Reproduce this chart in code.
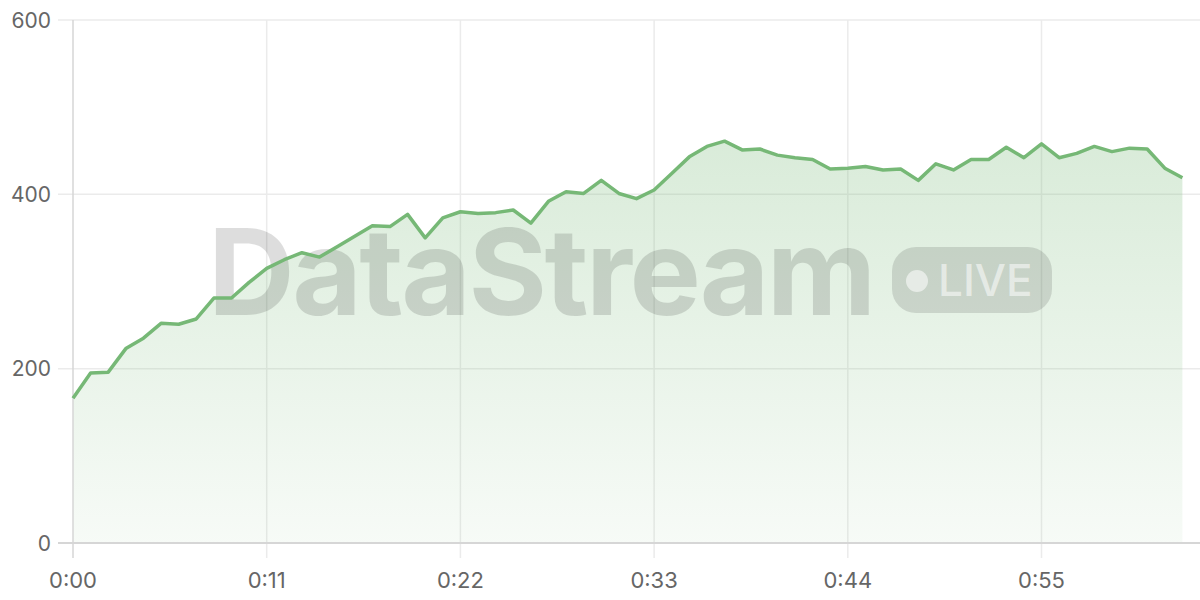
<!DOCTYPE html>
<html>
<head>
<meta charset="utf-8">
<script src="https://cdn.jsdelivr.net/npm/d3@7"></script>
<style>
  html, body { margin: 0; padding: 0; background: #fff; }
  #chart { width: 1200px; height: 600px; }
  .tick-label { font-family: Inter, "Open Sans", sans-serif; fill: #666; }
</style>
</head>
<body>
<div id="chart"></div>
<script>
// seconds since start, one sample per second
const seconds = d3.range(0, 64);
const values = [
  166, 195, 196, 223, 235, 252, 251, 257, 281, 281,
  299, 315, 325, 333, 328, 340, 352, 364, 363, 377,
  350, 373, 380, 378, 379, 382, 367, 392, 403, 401,
  416, 401, 395, 405, 424, 443, 455, 461, 451, 452,
  445, 442, 440, 429, 430, 432, 428, 429, 416, 435,
  428, 440, 440, 454, 442, 458, 442, 447, 455, 449,
  453, 452, 430, 419
];
const xTicks = [0, 11, 22, 33, 44, 55];
const yTicks = [0, 200, 400, 600];

const width = 1200;
const height = 600;
const margin = { top: 20, right: 0, bottom: 57, left: 73 };
const lineColor = "#76b876";

const svg = d3
  .select("#chart")
  .append("svg")
  .attr("width", width)
  .attr("height", height);

const x = d3
  .scaleLinear()
  .domain([0, 64])
  .range([margin.left, width - margin.right]);
const y = d3
  .scaleLinear()
  .domain([0, 600])
  .range([height - margin.bottom, margin.top]);

const fmtTime = (s) => `${Math.floor(s / 60)}:${String(s % 60).padStart(2, "0")}`;

// gradient for the area
const grad = svg
  .append("defs")
  .append("linearGradient")
  .attr("id", "areaGrad")
  .attr("gradientUnits", "userSpaceOnUse")
  .attr("x1", 0)
  .attr("x2", 0)
  .attr("y1", y(470))
  .attr("y2", y(0));
grad.append("stop").attr("offset", "0%").attr("stop-color", lineColor).attr("stop-opacity", 0.28);
grad.append("stop").attr("offset", "100%").attr("stop-color", lineColor).attr("stop-opacity", 0.06);

// horizontal grid
svg
  .append("g")
  .selectAll("line")
  .data(yTicks.filter((d) => d > 0))
  .enter()
  .append("line")
  .attr("x1", margin.left - 15)
  .attr("x2", width)
  .attr("y1", (d) => y(d))
  .attr("y2", (d) => y(d))
  .attr("stroke", "#ebebeb")
  .attr("stroke-width", 1.5);

// vertical grid
svg
  .append("g")
  .selectAll("line")
  .data(xTicks.filter((d) => d > 0))
  .enter()
  .append("line")
  .attr("x1", (d) => x(d))
  .attr("x2", (d) => x(d))
  .attr("y1", margin.top)
  .attr("y2", y(0) + 15)
  .attr("stroke", "#ebebeb")
  .attr("stroke-width", 1.5);

const data = seconds.map((s, i) => ({ s, v: values[i] }));

const area = d3
  .area()
  .x((d) => x(d.s))
  .y0(y(0))
  .y1((d) => y(d.v));

svg.append("path").datum(data).attr("d", area).attr("fill", "url(#areaGrad)");

// watermark
const wm = svg.append("g").attr("class", "watermark");
wm.append("text")
  .attr("x", 208)
  .attr("y", 315)
  .attr("font-family", "Inter, 'Liberation Sans', sans-serif")
  .attr("font-weight", 700)
  .attr("font-size", 120)
  .attr("letter-spacing", -2.5)
  .attr("fill", "rgba(0,0,0,0.135)")
  .text("DataStream");
wm.append("rect")
  .attr("x", 892)
  .attr("y", 247)
  .attr("width", 160)
  .attr("height", 66)
  .attr("rx", 24)
  .attr("fill", "rgba(0,0,0,0.12)");
wm.append("circle")
  .attr("cx", 917)
  .attr("cy", 281)
  .attr("r", 11)
  .attr("fill", "rgba(255,255,255,0.55)");
wm.append("text")
  .attr("x", 938)
  .attr("y", 296)
  .attr("font-family", "Inter, 'Liberation Sans', sans-serif")
  .attr("font-weight", 500)
  .attr("font-size", 44)
  .attr("fill", "rgba(255,255,255,0.55)")
  .text("LIVE");

// axis lines
svg
  .append("line")
  .attr("x1", margin.left)
  .attr("x2", margin.left)
  .attr("y1", margin.top)
  .attr("y2", y(0) + 15)
  .attr("stroke", "#d6d6d6")
  .attr("stroke-width", 1.5);
svg
  .append("line")
  .attr("x1", margin.left - 15)
  .attr("x2", width)
  .attr("y1", y(0))
  .attr("y2", y(0))
  .attr("stroke", "#d6d6d6")
  .attr("stroke-width", 2);

const line = d3
  .line()
  .x((d) => x(d.s))
  .y((d) => y(d.v));

svg
  .append("path")
  .datum(data)
  .attr("d", line)
  .attr("fill", "none")
  .attr("stroke", lineColor)
  .attr("stroke-width", 3.5)
  .attr("stroke-linejoin", "round");

// tick labels
svg
  .append("g")
  .selectAll("text")
  .data(yTicks)
  .enter()
  .append("text")
  .attr("class", "tick-label")
  .attr("x", 51)
  .attr("y", (d) => y(d))
  .attr("dy", "0.36em")
  .attr("text-anchor", "end")
  .attr("font-size", 21)
  .text((d) => d);

svg
  .append("g")
  .selectAll("text")
  .data(xTicks)
  .enter()
  .append("text")
  .attr("class", "tick-label")
  .attr("x", (d) => x(d))
  .attr("y", 588)
  .attr("text-anchor", "middle")
  .attr("font-size", 22)
  .text(fmtTime);
</script>
</body>
</html>
